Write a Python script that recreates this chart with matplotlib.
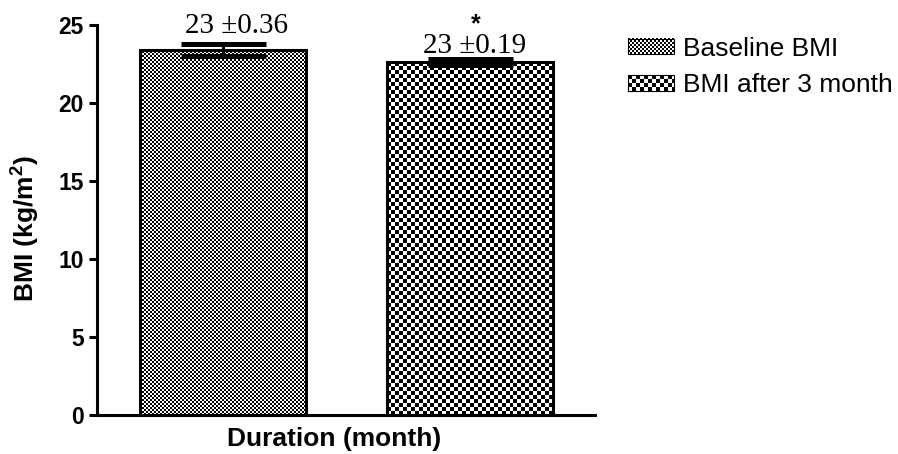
import numpy as np
import matplotlib
matplotlib.use('Agg')
import matplotlib.pyplot as plt
from matplotlib.patches import Patch

# datos del grafico
grupos = ['Baseline BMI', 'BMI after 3 month']
bmi_media = [23.4, 22.6]
bmi_error = [0.36, 0.19]
significancia = ['', '*']
yticks = [0, 5, 10, 15, 20, 25]

plt.rcParams['font.family'] = 'Liberation Sans'
plt.rcParams['mathtext.fontset'] = 'custom'
plt.rcParams['mathtext.rm'] = 'Liberation Sans'
plt.rcParams['mathtext.bf'] = 'Liberation Sans:bold'

fig = plt.figure(figsize=(8.98, 4.54), dpi=100)
ax = fig.add_axes([97/898, 1 - 415/454, 498/898, 390/454])

x = np.arange(len(grupos))
celdas = [2, 4]  # tamano del cuadro del patron (px)

barras = ax.bar(x, bmi_media, width=0.672, facecolor='none',
                edgecolor='black', linewidth=2.2, zorder=3)
ax.errorbar(x, bmi_media, yerr=bmi_error, fmt='none', ecolor='black',
            elinewidth=2.2, capsize=30.6, capthick=3.6, zorder=4)

ax.set_xlim(-0.51, 1.506)
ax.set_ylim(0, 25)
ax.set_xticks([])
ax.set_yticks(yticks)
ax.tick_params(axis='y', length=6, width=2.2, pad=3.5, labelsize=16.5)
for lab in ax.get_yticklabels():
    lab.set_fontweight('bold')
for s in ['top', 'right']:
    ax.spines[s].set_visible(False)
for s in ['left', 'bottom']:
    ax.spines[s].set_linewidth(2.2)

ax.set_xlabel('Duration (month)', fontsize=19, fontweight='bold')
ax.set_ylabel(r'BMI (kg/m$^{\mathbf{2}}$)', fontsize=19, fontweight='bold')
ax.xaxis.set_label_coords(0.477, -0.032)
ax.yaxis.set_label_coords(-0.112, 0.478)

# etiquetas de media +- error
desplaz = [14, 5]
sep = [11.3, 6.5]
for i in range(len(grupos)):
    tope = bmi_media[i] + bmi_error[i]
    texto = f'{bmi_media[i]:.0f} \u00b1{bmi_error[i]:.2f}'
    ax.annotate(texto, (x[i], tope),
                xytext=(desplaz[i] * 0.72, sep[i] * 0.72),
                textcoords='offset points', ha='center', va='baseline',
                fontsize=21, family='Liberation Serif', zorder=5)
    if significancia[i]:
        ax.annotate(r'$\mathbf{' + significancia[i] + '}$', (x[i], tope),
                    xytext=(4.5, 17.5), textcoords='offset points',
                    ha='center', va='bottom', fontsize=18)

manejadores = [Patch(facecolor='none', edgecolor='black', linewidth=0.8)
               for g in grupos]
leg = ax.legend(manejadores, grupos, loc='upper left', frameon=False,
                bbox_to_anchor=(628/898, 1 - 37/454),
                bbox_transform=fig.transFigure, fontsize=19,
                handlelength=1.74, handleheight=0.53, handletextpad=0.34,
                labelspacing=0.47, borderpad=0, borderaxespad=0)

fig.canvas.draw()

# relleno de cuadros en las barras
for i, b in enumerate(barras):
    bb = b.get_window_extent()
    nx = max(1, int(round(bb.width / celdas[i])))
    ny = max(1, int(round(bb.height / celdas[i])))
    patron = np.indices((ny, nx)).sum(axis=0) % 2
    x0 = b.get_x()
    ax.imshow(patron, cmap='gray', vmin=0, vmax=1, interpolation='nearest',
              extent=(x0, x0 + b.get_width(), 0, b.get_height()),
              aspect='auto', zorder=2)
ax.set_xlim(-0.51, 1.506)
ax.set_ylim(0, 25)

# relleno de cuadros en la leyenda
for i, h in enumerate(leg.legend_handles):
    bb = h.get_window_extent()
    w = int(round(bb.width))
    hh = int(round(bb.height))
    patron = (np.indices((hh, w)) // celdas[i]).sum(axis=0) % 2
    fig.figimage(patron, xo=int(round(bb.x0)), yo=int(round(bb.y0)),
                 cmap='gray', vmin=0, vmax=1, zorder=-1)

fig.savefig('out.png', dpi=100)
